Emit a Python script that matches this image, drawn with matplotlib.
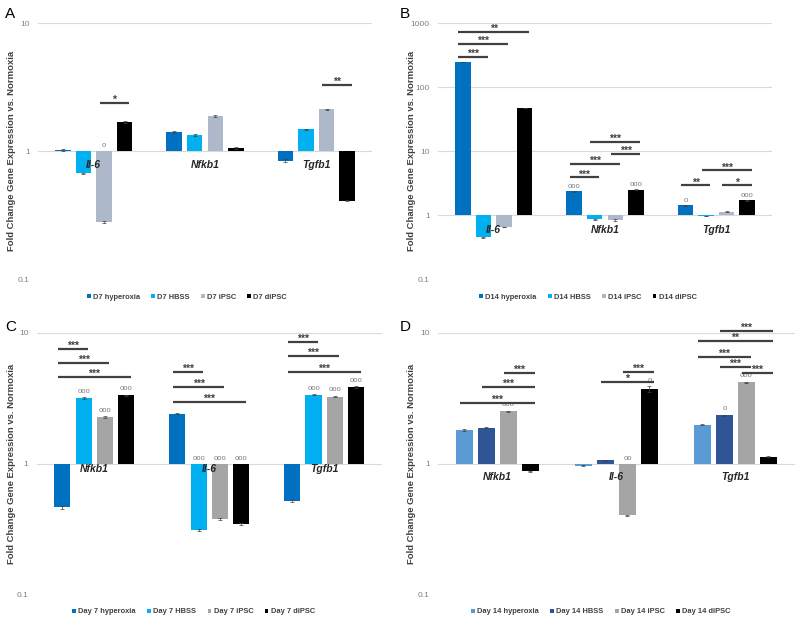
import numpy as np
import matplotlib.pyplot as plt
from matplotlib.ticker import NullLocator

plt.rcParams['font.family'] = ['Liberation Sans', 'DejaVu Sans']

# ---- panel A: day 7 ----
genes_a = ['Il-6', 'Nfkb1', 'Tgfb1']
series_a = ['D7 hyperoxia', 'D7 HBSS', 'D7 iPSC', 'D7 diPSC']
vals_a = [[1.02, 1.41, 0.84],
          [0.67, 1.33, 1.48],
          [0.28, 1.87, 2.12],
          [1.69, 1.06, 0.41]]
errs_a = [[0.01, 0.03, 0.02],
          [0.01, 0.02, 0.02],
          [0.005, 0.03, 0.03],
          [0.02, 0.02, 0.005]]
sig_a = [(0, 2, 3, 2.38, '*'), (2, 2, 3, 3.31, '**')]
circ_a = [(0, 2, 'o')]

# ---- panel B: day 14 ----
genes_b = ['Il-6', 'Nfkb1', 'Tgfb1']
series_b = ['D14 hyperoxia', 'D14 HBSS', 'D14 iPSC', 'D14 diPSC']
vals_b = [[245, 2.34, 1.43],
          [0.45, 0.86, 0.97],
          [0.65, 0.84, 1.13],
          [47, 2.49, 1.70]]
errs_b = [[3, 0.04, 0.02],
          [0.01, 0.02, 0.01],
          [0.01, 0.03, 0.03],
          [0.5, 0.04, 0.03]]
sig_b = [(0, 0, 1, 294, '***'), (0, 0, 2, 475, '***'), (0, 0, 3, 723, '**'),
         (1, 0, 1, 3.88, '***'), (1, 0, 2, 6.34, '***'),
         (1, 2, 3, 8.98, '***'), (1, 1, 3, 13.7, '***'),
         (2, 0, 1, 2.91, '**'), (2, 2, 3, 2.91, '*'), (2, 1, 3, 4.99, '***')]
circ_b = [(1, 0, 'ooo'), (1, 3, 'ooo'), (2, 0, 'o'), (2, 3, 'ooo')]

# ---- panel C: day 7 ----
genes_c = ['Nfkb1', 'Il-6', 'Tgfb1']
series_c = ['Day 7 hyperoxia', 'Day 7 HBSS', 'Day 7 iPSC', 'Day 7 diPSC']
vals_c = [[0.467, 2.41, 0.525],
          [3.19, 0.313, 3.38],
          [2.27, 0.38, 3.27],
          [3.34, 0.348, 3.87]]
errs_c = [[0.01, 0.02, 0.01],
          [0.04, 0.004, 0.04],
          [0.04, 0.005, 0.05],
          [0.04, 0.004, 0.05]]
sig_c = [(0, 0, 1, 7.55, '***'), (0, 0, 2, 5.87, '***'), (0, 0, 3, 4.59, '***'),
         (1, 0, 1, 5.01, '***'), (1, 0, 2, 3.87, '***'), (1, 0, 3, 2.96, '***'),
         (2, 0, 1, 8.49, '***'), (2, 0, 2, 6.64, '***'), (2, 0, 3, 5.07, '***')]
circ_c = [(g, b, 'ooo') for g in range(3) for b in (1, 2, 3)]

# ---- panel D: day 14 ----
genes_d = ['Nfkb1', 'Il-6', 'Tgfb1']
series_d = ['Day 14 hyperoxia', 'Day 14 HBSS', 'Day 14 iPSC', 'Day 14 diPSC']
vals_d = [[1.82, 0.97, 1.99],
          [1.89, 1.07, 2.35],
          [2.52, 0.406, 4.2],
          [0.88, 3.74, 1.14]]
errs_d = [[0.02, 0.01, 0.02],
          [0.02, 0.01, 0.03],
          [0.04, 0.004, 0.06],
          [0.01, 0.2, 0.01]]
sig_d = [(0, 2, 3, 4.92, '***'), (0, 1, 3, 3.85, '***'), (0, 0, 3, 2.92, '***'),
         (1, 2, 3, 5.07, '***'), (1, 1, 3, 4.25, '*'),
         (2, 1, 3, 10.3, '***'), (2, 0, 3, 8.64, '**'), (2, 0, 2, 6.6, '***'),
         (2, 1, 2, 5.53, '***'), (2, 2, 3, 4.92, '***')]
circ_d = [(0, 2, 'ooo'), (1, 2, 'oo'), (1, 3, 'o'), (2, 1, 'o'), (2, 2, 'ooo')]

colors_abc = ['#0070C0', '#00B0F0', '#ADB9CA', '#000000']
colors_c = ['#0070C0', '#00B0F0', '#A5A5A5', '#000000']
colors_d = ['#5B9BD5', '#2F5597', '#A5A5A5', '#000000']

OFF = 0.185
W = 0.14


def draw_panel(ax, genes, series, vals, errs, colors, sig, circ, ticks,
               lab_y, leg_x, leg_y):
    x = np.arange(len(genes))
    for i, s in enumerate(series):
        v = np.array(vals[i])
        xi = x + (i - 1.5) * OFF
        ax.bar(xi, v - 1, bottom=1, width=W, color=colors[i], label=s, zorder=2)
        ax.errorbar(xi, v, yerr=errs[i], fmt='none', ecolor='#404040',
                    elinewidth=0.5, capsize=1.2, capthick=0.5, zorder=3)
    ax.set_yscale('log')
    ax.set_ylim(ticks[0], ticks[-1])
    ax.set_xlim(-0.5, len(genes) - 0.5)
    ax.set_yticks(ticks)
    ax.set_yticklabels(['%g' % t for t in ticks])
    ax.yaxis.set_minor_locator(NullLocator())
    ax.tick_params(axis='y', length=0, labelsize=6, labelcolor='#808080', pad=6)
    ax.set_xticks([])
    for sp in ax.spines.values():
        sp.set_visible(False)
    ax.yaxis.grid(True, color='#D9D9D9', lw=0.8)
    ax.set_axisbelow(True)

    for k, g in enumerate(genes):
        ax.text(k, lab_y, g, ha='center', va='center', fontsize=7.5,
                fontweight='bold', style='italic', color='#262626', zorder=5)

    for g, i, j, y, lab in sig:
        x0 = g + (i - 1.5) * OFF - 0.04
        x1 = g + (j - 1.5) * OFF + 0.04
        ax.plot([x0, x1], [y, y], color='#404040', lw=1.6, clip_on=False,
                solid_capstyle='butt', zorder=4)
        ax.text((x0 + x1) / 2, y, lab, ha='center', va='baseline',
                fontsize=7.5, fontweight='bold', color='#404040', clip_on=False)

    for g, i, lab in circ:
        top = max(vals[i][g] + errs[i][g], 1)
        ax.text(g + (i - 1.5) * OFF, top * 1.04, lab, ha='center', va='bottom',
                fontsize=5.5, color='#7F7F7F')

    ax.legend(ncol=4, loc='center', bbox_to_anchor=(leg_x, leg_y),
              frameon=False, prop={'size': 5.4, 'weight': 'bold'},
              labelcolor='#404040', handlelength=0.5, handleheight=0.5,
              handletextpad=0.3, columnspacing=1.5, borderaxespad=0)


fig = plt.figure(figsize=(8, 6.23), dpi=100)

ax_a = fig.add_axes([0.0475, 0.552, 0.4175, 0.411])
ax_b = fig.add_axes([0.5475, 0.552, 0.4175, 0.411])
ax_c = fig.add_axes([0.046, 0.045, 0.431, 0.4205])
ax_d = fig.add_axes([0.5475, 0.045, 0.446, 0.4205])

draw_panel(ax_a, genes_a, series_a, vals_a, errs_a, colors_abc, sig_a, circ_a,
           [0.1, 1, 10], 0.78, 0.446, -0.07)
draw_panel(ax_b, genes_b, series_b, vals_b, errs_b, colors_abc, sig_b, circ_b,
           [0.1, 1, 10, 100, 1000], 0.59, 0.449, -0.07)
draw_panel(ax_c, genes_c, series_c, vals_c, errs_c, colors_c, sig_c, circ_c,
           [0.1, 1, 10], 0.91, 0.455, -0.065)
draw_panel(ax_d, genes_d, series_d, vals_d, errs_d, colors_d, sig_d, circ_d,
           [0.1, 1, 10], 0.8, 0.457, -0.065)

ylab = 'Fold Change Gene Expression vs. Normoxia'
for xf, yf in [(0.015, 0.757), (0.515, 0.757), (0.015, 0.256), (0.515, 0.256)]:
    fig.text(xf, yf, ylab, rotation=90, ha='center', va='center',
             fontsize=6.8, fontweight='bold', color='#404040')

for lab, xf, yf in [('A', 0.006, 0.978), ('B', 0.5, 0.978),
                    ('C', 0.006, 0.475), ('D', 0.5, 0.475)]:
    fig.text(xf, yf, lab, ha='left', va='center', fontsize=11, color='#000000')

fig.savefig('out.png', dpi=100)
